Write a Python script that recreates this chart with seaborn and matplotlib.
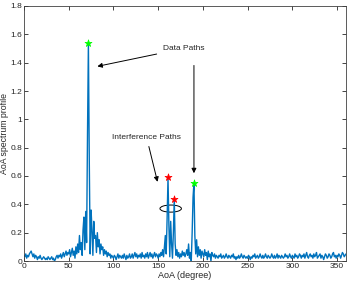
import matplotlib
matplotlib.use("Agg")
from matplotlib import pyplot as plt
from matplotlib.patches import Ellipse
import numpy as np
import pandas as pd
import seaborn as sns

# AoA spectrum, 1 degree steps 0..360
aoa = list(range(0, 361))
profile = [
    0.04, 0.03, 0.05, 0.02, 0.04, 0.03, 0.05, 0.06, 0.07, 0.05,
    0.03, 0.05, 0.02, 0.04, 0.03, 0.01, 0.03, 0.02, 0.04, 0.02,
    0.01, 0.02, 0.03, 0.02, 0.01, 0.02, 0.01, 0.03, 0.02, 0.01,
    0.02, 0.03, 0.01, 0.02, 0.00, 0.01, 0.03, 0.04, 0.02, 0.04,
    0.03, 0.05, 0.02, 0.04, 0.06, 0.03, 0.05, 0.07, 0.04, 0.06,
    0.05, 0.08, 0.03, 0.06, 0.09, 0.04, 0.07, 0.02, 0.10, 0.05,
    0.12, 0.06, 0.18, 0.08, 0.13, 0.04, 0.22, 0.31, 0.08, 0.35,
    0.13, 0.90, 1.54, 0.70, 0.05, 0.36, 0.22, 0.04, 0.28, 0.16,
    0.18, 0.06, 0.20, 0.10, 0.15, 0.05, 0.12, 0.08, 0.10, 0.04,
    0.08, 0.05, 0.07, 0.03, 0.06, 0.04, 0.05, 0.02, 0.04, 0.03,
    0.02, 0.04, 0.03, 0.01, 0.03, 0.05, 0.02, 0.04, 0.03, 0.02,
    0.04, 0.02, 0.05, 0.03, 0.01, 0.04, 0.02, 0.03, 0.05, 0.02,
    0.03, 0.05, 0.02, 0.04, 0.06, 0.03, 0.05, 0.02, 0.04, 0.03,
    0.05, 0.02, 0.06, 0.03, 0.04, 0.02, 0.05, 0.03, 0.06, 0.02,
    0.04, 0.06, 0.03, 0.05, 0.02, 0.04, 0.06, 0.03, 0.05, 0.04,
    0.02, 0.05, 0.03, 0.06, 0.04, 0.08, 0.03, 0.10, 0.18, 0.05,
    0.30, 0.59, 0.25, 0.03, 0.28, 0.12, 0.02, 0.20, 0.44, 0.12,
    0.04, 0.08, 0.03, 0.06, 0.02, 0.05, 0.03, 0.07, 0.04, 0.06,
    0.03, 0.05, 0.08, 0.04, 0.12, 0.02, 0.06, 0.00, 0.20, 0.45,
    0.55, 0.18, 0.05, 0.15, 0.03, 0.10, 0.04, 0.08, 0.02, 0.07,
    0.05, 0.03, 0.08, 0.04, 0.06, 0.01, 0.07, 0.03, 0.05, 0.00,
    0.06, 0.04, 0.03, 0.05, 0.02, 0.04, 0.03, 0.02, 0.04, 0.03,
    0.05, 0.02, 0.03, 0.04, 0.02, 0.03, 0.05, 0.03, 0.02, 0.04,
    0.03, 0.02, 0.04, 0.03, 0.05, 0.02, 0.03, 0.01, 0.03, 0.02,
    0.04, 0.02, 0.03, 0.05, 0.03, 0.02, 0.04, 0.03, 0.02, 0.03,
    0.02, 0.04, 0.03, 0.01, 0.03, 0.02, 0.04, 0.03, 0.05, 0.02,
    0.03, 0.04, 0.02, 0.03, 0.05, 0.03, 0.02, 0.04, 0.02, 0.03,
    0.05, 0.03, 0.02, 0.04, 0.03, 0.02, 0.03, 0.05, 0.03, 0.02,
    0.04, 0.02, 0.03, 0.05, 0.02, 0.04, 0.03, 0.02, 0.04, 0.03,
    0.02, 0.03, 0.05, 0.03, 0.04, 0.02, 0.03, 0.05, 0.03, 0.02,
    0.04, 0.03, 0.02, 0.05, 0.03, 0.04, 0.02, 0.03, 0.05, 0.04,
    0.02, 0.04, 0.03, 0.05, 0.02, 0.04, 0.06, 0.03, 0.02, 0.04,
    0.05, 0.03, 0.04, 0.02, 0.05, 0.03, 0.04, 0.06, 0.02, 0.03,
    0.04, 0.05, 0.02, 0.04, 0.03, 0.01, 0.03, 0.05, 0.04, 0.02,
    0.03, 0.05, 0.04, 0.02, 0.03, 0.05, 0.06, 0.03, 0.04, 0.02,
    0.04, 0.03, 0.05, 0.04, 0.02, 0.04, 0.06, 0.05, 0.03, 0.04,
    0.05,
]

# marked peaks
data_x = [72, 190]
data_y = [1.54, 0.55]
interf_x = [161, 168]
interf_y = [0.59, 0.44]

xticks = [0, 50, 100, 150, 200, 250, 300, 350]
yticks = [0, 0.2, 0.4, 0.6, 0.8, 1, 1.2, 1.4, 1.6, 1.8]
ytick_labels = ['0', '0.2', '0.4', '0.6', '0.8', '1', '1.2', '1.4', '1.6', '1.8']

sns.set_style("ticks")
plt.rcParams['font.family'] = ['Liberation Sans', 'DejaVu Sans']

df = pd.DataFrame({'aoa': aoa, 'profile': profile})

fig, ax = plt.subplots(figsize=(3.49, 2.82), dpi=100)
fig.subplots_adjust(left=24/349, right=346/349, bottom=21/282, top=276/282)

sns.lineplot(data=df, x='aoa', y='profile', ax=ax, color='#0072BD', lw=1.0)
sns.scatterplot(x=data_x, y=data_y, ax=ax, marker='*', s=28, color='#00ff00',
                edgecolor='#00ff00', linewidth=0.5, zorder=5)
sns.scatterplot(x=interf_x, y=interf_y, ax=ax, marker='*', s=28, color='#ff0000',
                edgecolor='#ff0000', linewidth=0.5, zorder=5)

ax.set_xlim(0, 360)
ax.set_ylim(0, 1.8)
ax.set_xticks(xticks)
ax.set_yticks(yticks)
ax.set_yticklabels(ytick_labels)
ax.tick_params(direction='in', top=True, right=True, labelsize=6, length=3,
               width=0.6, pad=1.5, colors='#262626')
for s in ax.spines.values():
    s.set_linewidth(0.6)
    s.set_color('#404040')
ax.set_xlabel('AoA (degree)', fontsize=6.5, labelpad=1)
ax.set_ylabel('AoA spectrum profile', fontsize=6.3)
ax.yaxis.set_label_coords(-0.047, 0.5)

aprops = dict(arrowstyle='-|>', color='black', lw=0.7, mutation_scale=7)
ax.annotate('Data Paths', xy=(79, 1.37), xytext=(155, 1.50), fontsize=6,
            va='center', ha='left', arrowprops=aprops)
ax.annotate('', xy=(190, 0.60), xytext=(190, 1.40), arrowprops=aprops)
ax.annotate('Interference Paths', xy=(150, 0.54), xytext=(137, 0.875),
            fontsize=6, va='center', ha='center', arrowprops=aprops)
ax.add_patch(Ellipse((164, 0.37), 24, 0.05, fill=False, color='black', lw=0.7))

fig.savefig('out.png', dpi=100)
